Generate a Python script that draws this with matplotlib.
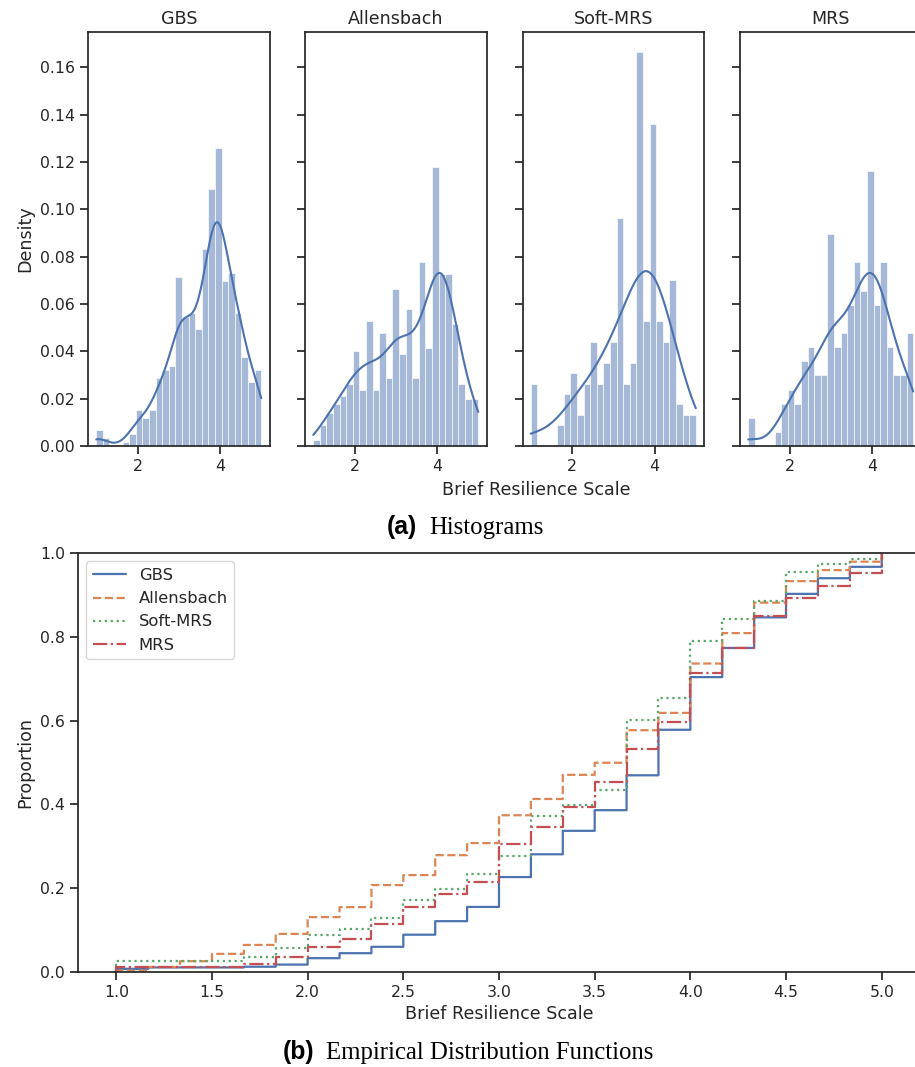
import numpy as np
import matplotlib
matplotlib.use("Agg")
import matplotlib.pyplot as plt
import seaborn as sns
from matplotlib.ticker import FormatStrFormatter

# ---- data: Brief Resilience Scale scores (possible values) and counts per group ----
scale_values = [1.0, 1.1667, 1.3333, 1.5, 1.6667, 1.8333, 2.0, 2.1667, 2.3333, 2.5,
                2.6667, 2.8333, 3.0, 3.1667, 3.3333, 3.5, 3.6667, 3.8333, 4.0, 4.1667,
                4.3333, 4.5, 4.6667, 4.8333, 5.0]
groups = ["GBS", "Allensbach", "Soft-MRS", "MRS"]
counts_gbs = [4, 2, 0, 0, 1, 3, 9, 7, 9, 17, 19, 20, 42, 32, 33, 29, 49, 64, 74, 41, 43, 33, 22, 16, 19]
counts_allensbach = [2, 7, 11, 14, 17, 21, 32, 19, 42, 19, 38, 23, 53, 31, 46, 23, 62, 33, 94, 58, 58, 41, 21, 16, 16]
counts_softmrs = [6, 0, 0, 0, 2, 5, 7, 3, 6, 10, 6, 8, 10, 22, 6, 8, 38, 12, 31, 12, 10, 16, 4, 3, 3]
counts_mrs = [4, 0, 0, 0, 2, 6, 8, 6, 12, 14, 10, 10, 30, 14, 16, 20, 26, 22, 39, 20, 26, 14, 10, 10, 16]
all_counts = [counts_gbs, counts_allensbach, counts_softmrs, counts_mrs]
kde_bw_adjust = [1.0, 1.0, 1.5, 1.1]
hist_xticks = [2, 4]
hist_yticks = [0.0, 0.02, 0.04, 0.06, 0.08, 0.10, 0.12, 0.14, 0.16]
ecdf_xticks = [1.0, 1.5, 2.0, 2.5, 3.0, 3.5, 4.0, 4.5, 5.0]
ecdf_yticks = [0.0, 0.2, 0.4, 0.6, 0.8, 1.0]

sns.set_theme(style="ticks", context="notebook")
plt.rcParams['font.family'] = ['DejaVu Sans']
plt.rcParams['xtick.labelsize'] = 11.3
plt.rcParams['ytick.labelsize'] = 11.3
plt.rcParams['axes.labelsize'] = 12.6
plt.rcParams['axes.titlesize'] = 12.6
plt.rcParams['legend.fontsize'] = 11.8

W, H = 915, 1067
fig = plt.figure(figsize=(W / 100, H / 100), dpi=100)


def rect(l, t, r, b):
    return [l / W, 1 - b / H, (r - l) / W, (b - t) / H]


palette = sns.color_palette("deep")
lefts = [88, 305, 522.5, 740]
axes = []
for i, (name, cnt) in enumerate(zip(groups, all_counts)):
    ax = fig.add_axes(rect(lefts[i], 32, lefts[i] + 181.5, 446),
                      sharey=axes[0] if axes else None)
    data = np.repeat(np.array(scale_values), cnt)
    sns.histplot(x=data, bins=25, binrange=(1, 5), stat="probability", kde=True,
                 kde_kws={"bw_adjust": kde_bw_adjust[i]},
                 ax=ax, color=palette[0])
    ax.set_title(name)
    ax.set_xticks(hist_xticks)
    ax.set_xlim(0.8, 5.2)
    ax.set_xlabel("")
    if i == 0:
        ax.set_ylabel("Density")
    else:
        ax.set_ylabel("")
        ax.tick_params(labelleft=False)
    axes.append(ax)
axes[0].set_yticks(hist_yticks)
axes[0].yaxis.set_major_formatter(FormatStrFormatter("%.2f"))
axes[0].set_ylim(0, 0.175)

fig.text(536 / W, 1 - 490 / H, "Brief Resilience Scale", ha="center", va="center",
         fontsize=12.6, color=".15")

# ---- ECDF panel ----
axb = fig.add_axes(rect(78, 553.3, 920, 971.7))
styles = ["-", "--", ":", "-."]
for i, (name, cnt) in enumerate(zip(groups, all_counts)):
    data = np.repeat(np.array(scale_values), cnt)
    sns.ecdfplot(x=data, ax=axb, label=name, linestyle=styles[i], color=palette[i],
                 linewidth=1.6)
axb.set_xlim(0.8, 5.2)
axb.set_ylim(0, 1)
axb.set_xticks(ecdf_xticks)
axb.set_yticks(ecdf_yticks)
axb.set_xlabel("Brief Resilience Scale")
axb.set_ylabel("Proportion")
axb.legend(loc="upper left")

# ---- captions ----
fig.text(387 / W, 1 - 534 / H, "(a)", fontfamily="Liberation Sans", weight="bold",
         fontsize=17.8, va="baseline", color="black")
fig.text(429 / W, 1 - 534 / H, "Histograms", fontfamily="Liberation Serif",
         fontsize=17.8, va="baseline", color="black")
fig.text(283 / W, 1 - 1059 / H, "(b)", fontfamily="Liberation Sans", weight="bold",
         fontsize=17.8, va="baseline", color="black")
fig.text(326.5 / W, 1 - 1059 / H, "Empirical Distribution Functions",
         fontfamily="Liberation Serif", fontsize=17.8, va="baseline", color="black")

fig.savefig("out.png", dpi=100)
